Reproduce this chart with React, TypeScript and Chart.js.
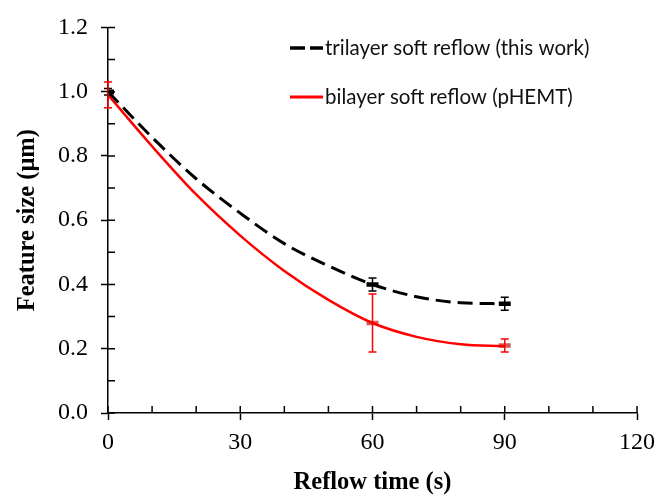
import { useEffect, useRef } from "react";
import { Chart, registerables } from "chart.js";

Chart.register(...registerables);

// Fitted trend curves (feature size in µm vs reflow time in s)
const curveTimes = [0, 10, 20, 30, 40, 50, 60, 70, 80, 90];
const trilayerCurve = [1.0, 0.858, 0.729, 0.622, 0.527, 0.458, 0.4, 0.362, 0.343, 0.34];
const bilayerCurve = [0.99, 0.83, 0.68, 0.552, 0.442, 0.352, 0.28, 0.237, 0.214, 0.208];

// Measured points with error bars
const measuredTimes = [0, 60, 90];
const trilayerMeasured = [1.0, 0.4, 0.34];
const trilayerError = [0.01, 0.02, 0.02];
const bilayerMeasured = [0.99, 0.28, 0.21];
const bilayerError = [0.04, 0.09, 0.02];

const legendLabels = ["trilayer soft reflow (this work)", "bilayer soft reflow (pHEMT)"];
const xTitle = "Reflow time (s)";
const yTitle = "Feature size (\u03bcm)";

const xMinorTicks = [0, 10, 20, 30, 40, 50, 60, 70, 80, 90, 100, 110, 120];
const yMinorTicks = [0, 0.1, 0.2, 0.3, 0.4, 0.5, 0.6, 0.7, 0.8, 0.9, 1.0, 1.1, 1.2];

const SERIF = "'Liberation Serif', 'Times New Roman', serif";
const SANS = "Lato, 'Noto Sans', sans-serif";

const errorBarPlugin = {
  id: "errorBars",
  afterDatasetsDraw(chart: any) {
    const ctx = chart.ctx;
    const yScale = chart.scales.y;
    chart.data.datasets.forEach((ds: any, i: number) => {
      if (!ds.errors) return;
      const meta = chart.getDatasetMeta(i);
      meta.data.forEach((pt: any, j: number) => {
        const v = ds.data[j].y;
        const e = ds.errors[j];
        const top = yScale.getPixelForValue(v + e);
        const bot = yScale.getPixelForValue(v - e);
        const x = pt.x;
        ctx.save();
        ctx.strokeStyle = ds.errorColor;
        ctx.lineWidth = 1.5;
        ctx.beginPath();
        ctx.moveTo(x, top);
        ctx.lineTo(x, bot);
        ctx.moveTo(x - 4, top);
        ctx.lineTo(x + 4, top);
        ctx.moveTo(x - 4, bot);
        ctx.lineTo(x + 4, bot);
        ctx.stroke();
        ctx.restore();
      });
    });
  },
};

const innerTicksPlugin = {
  id: "innerTicks",
  afterDraw(chart: any) {
    const ctx = chart.ctx;
    const { x, y } = chart.scales;
    const area = chart.chartArea;
    ctx.save();
    ctx.strokeStyle = "#000";
    ctx.lineWidth = 1.5;
    ctx.beginPath();
    xMinorTicks.forEach((v) => {
      const px = x.getPixelForValue(v);
      ctx.moveTo(px, area.bottom);
      ctx.lineTo(px, area.bottom - 7);
    });
    yMinorTicks.forEach((v) => {
      const py = y.getPixelForValue(v);
      ctx.moveTo(area.left, py);
      ctx.lineTo(area.left + 7, py);
    });
    ctx.stroke();
    ctx.restore();
  },
};

const legendPlugin = {
  id: "insideLegend",
  afterDraw(chart: any) {
    const ctx = chart.ctx;
    const rows = [48, 97];
    const x0 = 290;
    const x1 = 323;
    chart.data.datasets
      .filter((ds: any) => ds.inLegend)
      .forEach((ds: any, i: number) => {
        const yy = rows[i];
        ctx.save();
        ctx.strokeStyle = ds.borderColor;
        ctx.lineWidth = ds.borderWidth + 0.5;
        ctx.setLineDash(ds.borderDash ? [15, 5] : []);
        ctx.beginPath();
        ctx.moveTo(x0, yy);
        ctx.lineTo(x1, yy);
        ctx.stroke();
        ctx.setLineDash([]);
        ctx.fillStyle = "#111";
        ctx.font = `20.5px ${SANS}`;
        ctx.textBaseline = "middle";
        ctx.textAlign = "left";
        ctx.fillText(ds.label, x1 + 2, yy);
        ctx.restore();
      });
  },
};

export default function App() {
  const ref = useRef<HTMLCanvasElement | null>(null);

  useEffect(() => {
    if (!ref.current) return;
    const toXY = (xs: number[], ys: number[]) => xs.map((t, i) => ({ x: t, y: ys[i] }));
    const chart = new Chart(ref.current, {
      type: "line",
      data: {
        datasets: [
          {
            label: legendLabels[0],
            data: toXY(curveTimes, trilayerCurve),
            borderColor: "#000000",
            borderWidth: 3,
            borderDash: [15, 7],
            pointRadius: 0,
            cubicInterpolationMode: "monotone",
            fill: false,
            inLegend: true,
          } as any,
          {
            label: legendLabels[1],
            data: toXY(curveTimes, bilayerCurve),
            borderColor: "#FF0000",
            borderWidth: 2.5,
            pointRadius: 0,
            cubicInterpolationMode: "monotone",
            fill: false,
            inLegend: true,
          } as any,
          {
            label: "trilayer measured",
            data: toXY(measuredTimes, trilayerMeasured),
            showLine: false,
            pointStyle: "line",
            pointRadius: 6,
            pointBorderWidth: 4.5,
            borderColor: "#000000",
            errors: trilayerError,
            errorColor: "#000000",
          } as any,
          {
            label: "bilayer measured",
            data: toXY(measuredTimes, bilayerMeasured),
            showLine: false,
            pointStyle: "line",
            pointRadius: 6,
            pointBorderWidth: 4.5,
            borderColor: "rgba(200,60,60,0.85)",
            errors: bilayerError,
            errorColor: "#FF0000",
          } as any,
        ],
      },
      options: {
        animation: false,
        responsive: false,
        events: [],
        layout: { padding: { top: 21, right: 33, left: 0, bottom: 0 } },
        plugins: { legend: { display: false }, tooltip: { enabled: false } },
        scales: {
          x: {
            type: "linear",
            min: 0,
            max: 120,
            afterFit: (s: any) => {
              s.height = 82;
            },
            ticks: {
              stepSize: 30,
              color: "#000",
              font: { family: SERIF, size: 24 },
              padding: 8,
              maxRotation: 0,
            },
            grid: {
              drawOnChartArea: false,
              drawTicks: true,
              tickLength: 7,
              tickColor: "#000",
              tickWidth: 1.5,
            },
            border: { display: true, color: "#000", width: 1.5 },
            title: {
              display: true,
              text: xTitle,
              color: "#000",
              font: { family: SERIF, size: 24.5, weight: "bold", lineHeight: 1 },
              padding: { top: 0, bottom: 0 },
            },
          },
          y: {
            type: "linear",
            min: 0,
            max: 1.2,
            afterFit: (s: any) => {
              s.width = 108;
            },
            ticks: {
              stepSize: 0.2,
              color: "#000",
              font: { family: SERIF, size: 24 },
              padding: 13,
              callback: (v: any) => Number(v).toFixed(1),
            },
            grid: {
              drawOnChartArea: false,
              drawTicks: true,
              tickLength: 7,
              tickColor: "#000",
              tickWidth: 1.5,
            },
            border: { display: true, color: "#000", width: 1.5 },
            title: {
              display: true,
              text: yTitle,
              color: "#000",
              font: { family: SERIF, size: 24.5, weight: "bold", lineHeight: 1 },
              padding: { top: 15, bottom: 0 },
            },
          },
        },
      } as any,
      plugins: [errorBarPlugin, innerTicksPlugin, legendPlugin],
    });
    return () => chart.destroy();
  }, []);

  return (
    <div style={{ position: "absolute", left: 0, top: 0, width: 670, height: 495, background: "#fff" }}>
      <canvas ref={ref} width={670} height={495} />
    </div>
  );
}
